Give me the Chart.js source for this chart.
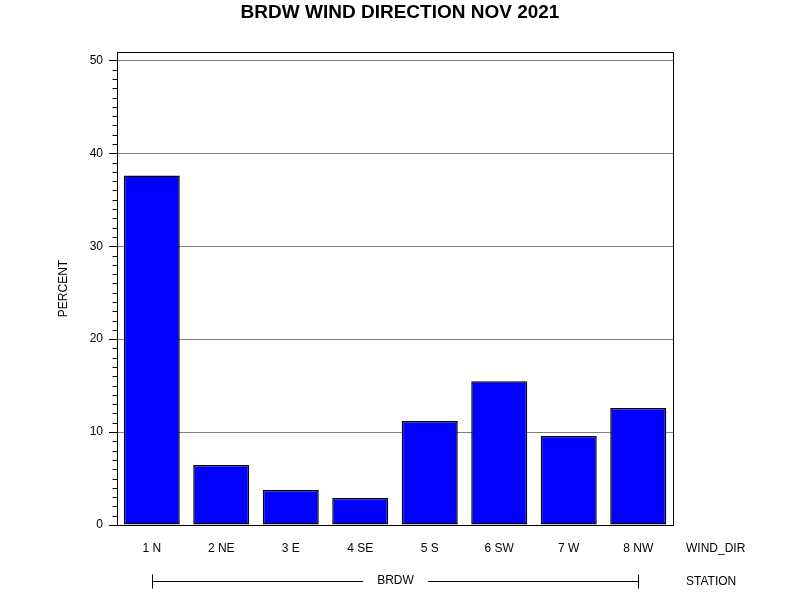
<!DOCTYPE html>
<html>
<head>
<meta charset="utf-8">
<script src="https://cdn.jsdelivr.net/npm/chart.js@4/dist/chart.umd.min.js"></script>
<style>
html,body{margin:0;padding:0;background:#fff;}
#wrap{width:800px;height:600px;}
</style>
</head>
<body>
<div id="wrap"><canvas id="c" width="800" height="600"></canvas></div>
<script>
const categories = ["1 N","2 NE","3 E","4 SE","5 S","6 SW","7 W","8 NW"];
const percentValues = [37.6, 6.45, 3.76, 2.9, 11.18, 15.48, 9.57, 12.58];
const yTickValues = [0, 10, 20, 30, 40, 50];
const stationName = "BRDW";
const chartTitle = "BRDW WIND DIRECTION NOV 2021";
const yTitle = "PERCENT";
const xRowLabel = "WIND_DIR";
const stationRowLabel = "STATION";

const FONT = "'Liberation Sans', Arial, sans-serif";

const decorations = {
  id: 'decorations',
  afterDraw(chart) {
    const ctx = chart.ctx;
    const a = chart.chartArea;
    const y = chart.scales.y;
    const x = chart.scales.x;
    ctx.save();
    ctx.strokeStyle = '#000';
    ctx.lineWidth = 1;
    for (let v = 1; v < 51; v++) {
      if (v % 10 === 0) continue;
      const py = Math.round(y.getPixelForValue(v)) + 0.5;
      ctx.beginPath();
      ctx.moveTo(a.left - 4.5, py);
      ctx.lineTo(a.left, py);
      ctx.stroke();
    }
    ctx.strokeRect(Math.round(a.left) + 0.5, Math.round(a.top) + 0.5,
      Math.round(a.right - a.left), Math.round(a.bottom - a.top));
    ctx.fillStyle = '#000';
    ctx.font = "bold 19px " + FONT;
    ctx.textAlign = 'center';
    ctx.textBaseline = 'middle';
    ctx.fillText(chartTitle, 400, 13);
    ctx.font = "12px " + FONT;
    ctx.save();
    ctx.translate(64, (a.top + a.bottom) / 2);
    ctx.rotate(-Math.PI / 2);
    ctx.fillText(yTitle, 0, 0);
    ctx.restore();
    ctx.textAlign = 'left';
    ctx.fillText(xRowLabel, 686, 549);
    ctx.fillText(stationRowLabel, 686, 582);
    const x0 = Math.round(x.getPixelForValue(0)) + 0.5;
    const x1 = Math.round(x.getPixelForValue(categories.length - 1)) + 0.5;
    const mid = (x0 + x1) / 2;
    const ly = 581.5;
    ctx.textAlign = 'center';
    ctx.fillText(stationName, mid, 581);
    const tw = ctx.measureText(stationName).width;
    ctx.beginPath();
    ctx.moveTo(x0, ly); ctx.lineTo(mid - tw / 2 - 14, ly);
    ctx.moveTo(mid + tw / 2 + 14, ly); ctx.lineTo(x1, ly);
    ctx.moveTo(x0, ly - 7); ctx.lineTo(x0, ly + 7);
    ctx.moveTo(x1, ly - 7); ctx.lineTo(x1, ly + 7);
    ctx.stroke();
    ctx.restore();
  }
};

new Chart(document.getElementById('c'), {
  type: 'bar',
  data: {
    labels: categories,
    datasets: [{
      data: percentValues,
      backgroundColor: '#0000ff',
      borderColor: '#000000',
      borderWidth: 1.5,
      borderSkipped: false,
      barPercentage: 0.806,
      categoryPercentage: 1.0
    }]
  },
  options: {
    responsive: false,
    animation: false,
    devicePixelRatio: 1,
    layout: { padding: { top: 52, right: 127, left: 0, bottom: 0 } },
    plugins: { legend: { display: false }, title: { display: false }, tooltip: { enabled: false } },
    scales: {
      x: {
        grid: { display: false },
        border: { display: false },
        ticks: { color: '#000', font: { family: FONT, size: 12 }, padding: 8, maxRotation: 0 },
        afterFit(s) { s.height = 75; }
      },
      y: {
        min: 0,
        max: 50.9,
        z: 1,
        grid: { color: '#808080', tickColor: '#000', tickLength: 8, lineWidth: 1 },
        border: { display: false },
        ticks: { stepSize: 10, color: '#000', font: { family: FONT, size: 12 }, padding: 6 },
        afterBuildTicks(s) { s.ticks = yTickValues.map(v => ({ value: v })); },
        afterFit(s) { s.width = 117; }
      }
    }
  },
  plugins: [decorations]
});
</script>
</body>
</html>
